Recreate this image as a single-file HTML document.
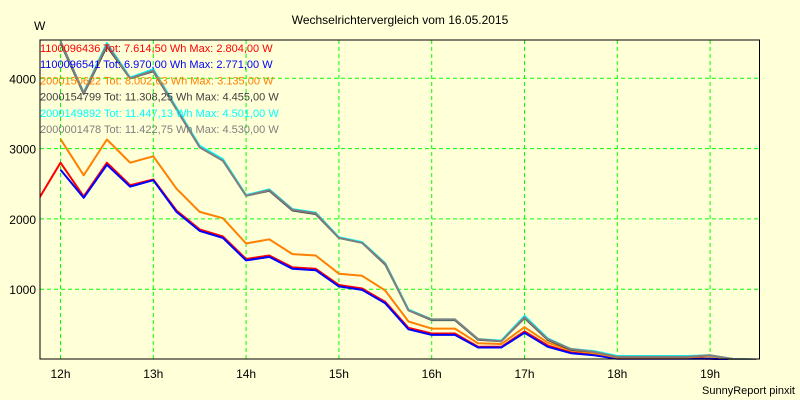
<!DOCTYPE html>
<html><head><meta charset="utf-8"><style>
body{margin:0;background:#ffffd8;}
svg{display:block;font-family:"Liberation Sans",sans-serif;}
</style></head><body>
<svg id="c" width="800" height="400">
<rect width="800" height="400" fill="#ffffd8"/>
<text x="400" y="24" font-size="12" text-anchor="middle">Wechselrichtervergleich vom 16.05.2015</text>
<text x="34" y="30" font-size="12">W</text>
<text x="795" y="394" font-size="11" text-anchor="end">SunnyReport pinxit</text>
<g id="grid"></g>
<g id="series"></g>
<rect x="40" y="40" width="719.5" height="319" fill="none" stroke="#000" stroke-width="1"/>
<g id="ticks"></g>
<g id="legend"></g>
</svg>
<script>
const yTicks=[1000,2000,3000,4000];
const xTickHours=[12,13,14,15,16,17,18,19];
const xTickLabels=["12h","13h","14h","15h","16h","17h","18h","19h"];
const seriesNames=["1100096436","1100096541","2000150622","2000154799","2000149892","2000001478"];
const seriesColors=["#ff0000","#0000ff","#ff8000","#404040","#00ffff","#808080"];
const legendTexts=["1100096436 Tot: 7.614,50 Wh Max: 2.804,00 W","1100096541 Tot: 6.970,00 Wh Max: 2.771,00 W","2000150622 Tot: 8.002,63 Wh Max: 3.135,00 W","2000154799 Tot: 11.308,25 Wh Max: 4.455,00 W","2000149892 Tot: 11.447,13 Wh Max: 4.501,00 W","2000001478 Tot: 11.422,75 Wh Max: 4.530,00 W"];
const startHours=[11.75,12,12,12,12,12];
const redVals=[2250,2800,2320,2800,2480,2560,2120,1850,1750,1430,1480,1310,1290,1060,1010,820,450,370,370,180,180,400,200,100,70,20,20,20,20,10,0,0];
const blueVals=[2700,2300,2770,2460,2550,2100,1830,1730,1410,1460,1290,1270,1040,990,800,430,350,350,170,170,380,180,90,60,10,10,10,10,10,0,0];
const orangeVals=[3135,2620,3130,2800,2890,2430,2100,2010,1650,1710,1500,1480,1220,1190,980,540,440,440,230,220,460,240,130,90,30,30,30,30,50,0,0];
const darkVals=[4500,3780,4455,4000,4100,3560,3020,2830,2330,2400,2120,2070,1730,1660,1350,700,560,560,280,260,590,280,140,110,40,40,40,40,60,5,0];
const cyanVals=[4520,3800,4501,4010,4130,3580,3040,2850,2340,2420,2140,2090,1740,1670,1370,710,570,570,290,270,620,300,150,120,50,50,50,50,60,5,0];
const grayVals=[4530,3790,4480,4000,4110,3560,3020,2830,2330,2410,2130,2080,1730,1660,1360,700,570,570,290,260,600,290,150,110,40,40,40,40,60,5,0];
const allVals=[redVals,blueVals,orangeVals,darkVals,cyanVals,grayVals];
const NS="http://www.w3.org/2000/svg";
const X=h=>60.5+(h-12)*92.8;
const Y=v=>359.5-v*0.0703;
const grid=document.getElementById('grid'),ticks=document.getElementById('ticks'),ser=document.getElementById('series'),leg=document.getElementById('legend');
function mk(tag,attrs,parent){const e=document.createElementNS(NS,tag);for(const k in attrs)e.setAttribute(k,attrs[k]);parent.appendChild(e);return e;}
yTicks.forEach(v=>{
 const l=mk('line',{x1:40,x2:759,y1:Y(v),y2:Y(v),stroke:'#00ff00','stroke-dasharray':'4,3'},grid);
 
 
 const t=mk('text',{x:36,y:Y(v)+5,'font-size':12,'text-anchor':'end'},ticks);t.textContent=v;
 
 
});
xTickHours.forEach((h,i)=>{
 const l=mk('line',{x1:X(h),x2:X(h),y1:40,y2:359,stroke:'#00ff00','stroke-dasharray':'4,3'},grid);
 
 
 const t=mk('text',{x:X(h),y:378,'font-size':12,'text-anchor':'middle'},ticks);t.textContent=xTickLabels[i];
 
 
});
const clip=mk('clipPath',{id:'pc'},mk('defs',{},document.getElementById('c')));
mk('rect',{x:40,y:40,width:720,height:320},clip);
ser.setAttribute('clip-path','url(#pc)');
allVals.forEach((vals,i)=>{
 const pts=vals.map((v,j)=>X(startHours[i]+j*0.25).toFixed(1)+','+Y(v).toFixed(1)).join(' ');
 const p=mk('polyline',{points:pts,fill:'none',stroke:seriesColors[i],'stroke-width':2,'stroke-linejoin':'round'},ser);
 
 
});
legendTexts.forEach((s,i)=>{
 const t=mk('text',{x:40,y:52+i*16.2,'font-size':11,fill:seriesColors[i]},leg);t.textContent=s;
 
 
});
</script>
</body></html>
